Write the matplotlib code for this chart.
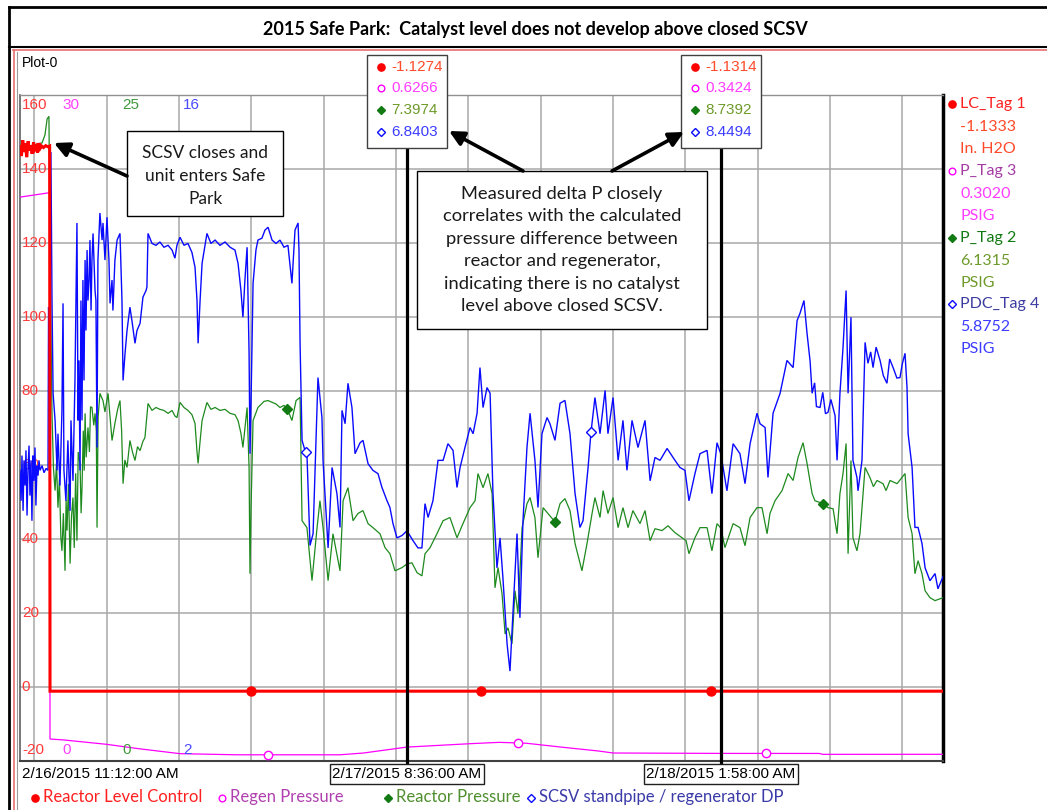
import numpy as np
import matplotlib
matplotlib.use("Agg")
import matplotlib.pyplot as plt
import matplotlib.dates as mdates
from matplotlib.lines import Line2D
from matplotlib.patches import Rectangle, FancyArrowPatch
from matplotlib.ticker import MultipleLocator
from datetime import datetime

plt.rcParams["font.family"] = ["Liberation Sans", "DejaVu Sans"]
NOTE_FONT = ["Lato", "DejaVu Sans"]

W, H = 1047, 810
START = datetime(2015, 2, 16, 11, 12)
SPAN_H = 51.05
cursor_times = [datetime(2015, 2, 17, 8, 36), datetime(2015, 2, 18, 1, 58)]

tags = ["LC_Tag 1", "P_Tag 3", "P_Tag 2", "PDC_Tag 4"]
units = ["In. H2O", "PSIG", "PSIG", "PSIG"]
descriptions = ["Reactor Level Control", "Regen Pressure", "Reactor Pressure",
                "SCSV standpipe / regenerator DP"]
scale_lo = [-20, 0, 0, 2]
scale_hi = [160, 30, 25, 16]

# values read by the two cursors
lc_cursor = [-1.1274, -1.1314]
p3_cursor = [0.6266, 0.3424]
p2_cursor = [7.3974, 8.7392]
pdc_cursor = [6.8403, 8.4494]

# (hours after start, value)
lc_pairs = [(0.00, 146.0), (0.08, 143.5), (0.15, 147.8), (0.22, 144.6), (0.30, 146.9),
            (0.37, 143.2), (0.45, 147.5), (0.52, 145.0), (0.60, 146.3), (0.67, 144.1),
            (0.75, 147.2), (0.82, 145.3), (0.90, 146.0), (0.97, 144.4), (1.05, 147.0),
            (1.12, 145.6), (1.20, 146.2), (1.30, 145.8), (1.42, 146.3), (1.55, 146.0),
            (1.64, 146.2), (1.66, -1.13), (51.05, -1.1333)]

p3_pairs = [(0.00, 25.4), (1.64, 25.6), (1.66, 0.99), (2.40, 0.95), (4.80, 0.75),
            (6.60, 0.55), (8.85, 0.33), (12.0, 0.28), (17.7, 0.28), (19.0, 0.36),
            (24.9, 0.78), (26.5, 0.84), (28.0, 0.80), (30.0, 0.62), (32.0, 0.45),
            (32.8, 0.36), (44.2, 0.34), (44.4, 0.30), (51.05, 0.3020)]

p2_pairs = [(0.00, 23.0), (0.60, 23.1), (1.22, 23.2), (1.38, 23.5), (1.50, 24.1),
            (1.60, 24.2), (1.68, 18.0), (1.77, 13.05), (1.85, 11.0), (1.94, 10.15),
            (2.02, 11.2), (2.10, 9.51), (2.18, 10.6), (2.26, 8.4), (2.32, 7.89),
            (2.40, 9.3), (2.49, 7.14), (2.55, 9.8), (2.60, 8.65), (2.68, 10.4),
            (2.77, 7.41), (2.85, 9.2), (2.93, 9.89), (3.00, 8.0), (3.08, 10.8),
            (3.15, 8.27), (3.22, 11.6), (3.32, 11.17), (3.38, 9.3), (3.43, 10.26),
            (3.50, 12.4), (3.55, 10.9), (3.60, 13.05), (3.66, 11.4), (3.76, 12.52),
            (3.84, 11.6), (3.90, 13.3), (3.98, 13.27), (4.08, 12.6), (4.15, 13.05),
            (4.22, 12.4), (4.26, 8.76), (4.32, 12.9), (4.42, 13.80), (4.59, 13.53),
            (4.70, 13.1), (4.87, 13.80), (4.98, 12.9), (5.09, 12.03), (5.25, 12.67),
            (5.40, 13.2), (5.53, 13.53), (5.62, 12.4), (5.70, 10.41), (5.80, 11.3),
            (5.92, 11.02), (6.08, 12.03), (6.22, 11.6), (6.36, 11.28), (6.50, 11.8),
            (6.64, 11.65), (6.80, 12.0), (6.91, 12.14), (7.08, 13.42), (7.30, 13.16),
            (7.52, 13.27), (7.74, 13.2), (7.96, 13.16), (8.19, 13.05), (8.41, 13.16),
            (8.57, 12.95), (8.68, 12.89), (8.85, 13.46), (9.07, 13.27), (9.29, 13.16),
            (9.51, 13.0), (9.68, 12.67), (9.79, 11.6), (9.85, 11.17), (9.96, 12.0),
            (10.07, 12.78), (10.34, 13.46), (10.56, 13.2), (10.79, 13.27), (11.06, 13.16),
            (11.34, 13.2), (11.62, 13.05), (11.89, 13.0), (12.06, 12.78), (12.22, 12.3),
            (12.33, 11.77), (12.44, 12.5), (12.56, 13.27), (12.67, 11.0), (12.72, 7.03),
            (12.78, 9.5), (12.89, 12.78), (13.16, 13.27), (13.50, 13.5), (13.72, 13.53),
            (14.16, 13.4), (14.38, 13.27), (14.60, 13.35), (14.82, 13.16), (15.04, 12.78),
            (15.27, 13.53), (15.49, 13.65), (15.60, 9.02), (15.87, 8.76), (16.15, 6.77),
            (16.43, 8.76), (16.59, 9.77), (16.76, 8.76), (17.04, 6.77), (17.31, 8.53),
            (17.70, 7.14), (17.87, 9.77), (18.14, 10.26), (18.42, 9.02), (18.69, 9.29),
            (18.97, 9.40), (19.25, 8.91), (19.52, 8.76), (19.91, 8.53), (20.19, 8.01),
            (20.46, 7.78), (20.74, 7.14), (21.13, 7.26), (21.68, 7.44), (21.96, 7.07),
            (22.23, 6.95), (22.40, 7.78), (22.68, 8.01), (23.06, 8.53), (23.40, 9.02),
            (23.78, 9.14), (24.17, 8.38), (24.50, 8.91), (24.89, 9.51), (25.17, 9.77),
            (25.33, 10.79), (25.61, 10.26), (25.88, 10.79), (26.11, 10.04), (26.27, 6.50),
            (26.44, 7.26), (26.66, 6.28), (26.83, 4.77), (26.99, 5.00), (27.21, 4.40),
            (27.38, 6.39), (27.54, 5.53), (27.77, 8.76), (28.04, 9.66), (28.21, 9.89),
            (28.48, 9.14), (28.65, 7.63), (28.93, 9.51), (29.20, 9.29), (29.59, 8.98),
            (29.87, 9.66), (30.14, 9.85), (30.42, 9.40), (30.70, 8.16), (31.08, 7.14),
            (31.36, 8.16), (31.64, 9.29), (31.80, 9.89), (32.08, 9.14), (32.25, 10.15),
            (32.52, 9.29), (32.80, 9.89), (33.08, 8.76), (33.35, 9.51), (33.63, 8.76),
            (33.90, 9.40), (34.29, 8.91), (34.57, 9.40), (34.85, 8.27), (35.12, 8.72),
            (35.51, 8.65), (35.84, 8.83), (36.23, 8.57), (36.62, 8.38), (36.84, 8.27),
            (37.00, 7.78), (37.33, 8.38), (37.61, 8.76), (38.00, 8.76), (38.27, 7.89),
            (38.55, 8.91), (38.99, 8.01), (39.44, 8.91), (39.82, 8.76), (40.10, 8.08),
            (40.38, 9.14), (40.76, 9.51), (41.04, 9.51), (41.32, 8.53), (41.48, 9.29),
            (41.76, 9.77), (42.15, 10.15), (42.48, 10.79), (42.76, 10.53), (43.03, 11.39),
            (43.31, 11.95), (43.53, 11.17), (43.81, 10.04), (43.97, 9.77), (44.41, 9.66),
            (44.69, 9.51), (44.97, 9.47), (45.19, 8.53), (45.35, 10.04), (45.52, 10.79),
            (45.69, 11.92), (45.80, 7.78), (45.96, 11.28), (46.07, 8.38), (46.29, 7.89),
            (46.46, 8.53), (46.74, 11.02), (47.01, 10.64), (47.20, 10.30), (47.40, 10.53),
            (47.73, 10.41), (47.90, 10.15), (48.12, 10.53), (48.51, 10.41), (48.78, 10.64),
            (48.95, 10.79), (49.12, 9.14), (49.34, 8.53), (49.50, 7.03), (49.67, 7.52),
            (49.89, 7.03), (50.06, 6.39), (50.33, 6.13), (50.61, 6.02), (51.05, 6.1315)]

pdc_pairs = [(0.00, 8.11), (0.06, 7.47), (0.11, 8.42), (0.17, 7.26), (0.22, 8.32),
             (0.28, 7.79), (0.33, 8.53), (0.39, 7.16), (0.44, 8.11), (0.50, 8.63),
             (0.55, 7.58), (0.61, 8.32), (0.66, 7.05), (0.72, 8.42), (0.77, 7.89),
             (0.83, 8.59), (0.88, 7.37), (0.94, 8.21), (1.00, 8.00), (1.05, 8.32),
             (1.11, 8.11), (1.22, 8.21), (1.33, 8.06), (1.44, 8.15), (1.55, 8.11),
             (1.58, 11.54), (1.64, 10.90), (1.71, 14.80), (1.77, 11.68), (1.83, 9.73),
             (1.94, 9.16), (2.05, 8.11), (2.10, 8.88), (2.21, 7.79), (2.32, 9.37),
             (2.38, 11.62), (2.43, 8.11), (2.54, 7.47), (2.65, 8.74), (2.77, 7.26),
             (2.82, 9.16), (2.93, 7.89), (3.04, 10.00), (3.15, 13.31), (3.21, 9.16),
             (3.26, 10.42), (3.32, 8.11), (3.37, 11.68), (3.43, 9.16), (3.48, 12.11),
             (3.54, 10.00), (3.60, 12.53), (3.65, 11.05), (3.71, 12.74), (3.76, 11.68),
             (3.82, 12.11), (3.87, 12.95), (3.93, 11.47), (3.98, 12.53), (4.04, 13.09),
             (4.15, 11.89), (4.20, 11.68), (4.26, 8.59), (4.31, 12.53), (4.42, 13.52),
             (4.54, 12.95), (4.59, 13.31), (4.70, 12.53), (4.81, 13.43), (4.92, 12.53),
             (4.98, 11.62), (5.09, 12.11), (5.14, 11.47), (5.25, 12.53), (5.37, 12.95),
             (5.53, 13.09), (5.64, 11.68), (5.70, 10.00), (5.81, 10.57), (5.92, 11.05),
             (6.08, 11.54), (6.19, 11.26), (6.36, 10.78), (6.47, 11.05), (6.64, 11.20),
             (6.80, 11.75), (6.97, 11.89), (7.02, 11.96), (7.08, 13.09), (7.30, 12.88),
             (7.52, 12.84), (7.74, 12.91), (7.96, 12.80), (8.19, 12.84), (8.41, 12.74),
             (8.57, 12.57), (8.68, 12.84), (8.85, 13.01), (9.07, 12.84), (9.29, 12.88),
             (9.51, 12.69), (9.68, 12.38), (9.79, 11.68), (9.85, 10.78), (9.96, 11.68),
             (10.07, 12.46), (10.23, 12.84), (10.34, 13.09), (10.56, 12.88), (10.79, 12.95),
             (11.06, 12.84), (11.34, 12.91), (11.62, 12.80), (11.89, 12.74), (12.06, 12.46),
             (12.22, 11.89), (12.33, 11.33), (12.44, 12.11), (12.56, 12.80), (12.67, 10.57),
             (12.72, 8.46), (12.78, 9.58), (12.89, 12.04), (13.05, 12.74), (13.16, 12.95),
             (13.38, 12.99), (13.55, 13.16), (13.72, 13.22), (13.94, 12.95), (14.16, 12.88),
             (14.38, 12.95), (14.60, 12.80), (14.82, 12.84), (15.04, 12.04), (15.21, 13.16),
             (15.38, 13.31), (15.43, 12.74), (15.49, 10.78), (15.60, 8.74), (15.76, 8.53),
             (15.87, 8.46), (16.04, 6.53), (16.21, 6.78), (16.48, 10.06), (16.70, 9.22),
             (16.76, 8.32), (17.04, 6.48), (17.26, 8.17), (17.53, 7.62), (17.70, 6.91),
             (17.81, 9.37), (17.98, 9.09), (18.14, 9.94), (18.36, 9.43), (18.53, 8.46),
             (18.81, 8.69), (18.97, 8.74), (19.25, 8.25), (19.52, 8.11), (19.80, 8.04),
             (20.02, 7.75), (20.30, 7.47), (20.46, 7.33), (20.63, 6.99), (20.85, 6.69),
             (21.13, 6.74), (21.74, 6.63), (22.01, 6.48), (22.23, 6.48), (22.40, 7.41),
             (22.57, 7.12), (22.84, 7.47), (23.12, 8.32), (23.40, 8.32), (23.67, 8.67),
             (23.95, 8.53), (24.17, 7.75), (24.34, 8.17), (24.61, 8.59), (24.89, 9.01),
             (25.06, 8.88), (25.28, 9.31), (25.44, 10.27), (25.61, 9.43), (25.83, 9.85),
             (26.00, 9.73), (26.16, 7.62), (26.38, 6.06), (26.55, 6.69), (26.71, 5.85),
             (26.94, 4.46), (27.10, 3.89), (27.27, 5.16), (27.49, 6.78), (27.65, 5.01),
             (27.82, 7.05), (28.04, 8.59), (28.21, 9.31), (28.48, 8.32), (28.65, 7.33),
             (28.87, 8.88), (29.15, 9.22), (29.31, 9.09), (29.59, 8.74), (29.87, 9.52),
             (30.14, 9.58), (30.42, 8.88), (30.70, 7.62), (30.97, 6.91), (31.14, 7.05),
             (31.42, 8.17), (31.58, 8.91), (31.80, 9.64), (32.08, 8.88), (32.36, 9.79),
             (32.52, 8.88), (32.80, 9.64), (33.08, 8.32), (33.35, 9.16), (33.57, 8.11),
             (33.85, 9.16), (34.18, 8.59), (34.57, 9.16), (34.85, 7.89), (35.12, 8.38),
             (35.40, 8.32), (35.79, 8.57), (36.12, 8.38), (36.50, 8.17), (36.78, 8.11),
             (37.00, 7.47), (37.33, 8.04), (37.61, 8.46), (38.00, 8.53), (38.27, 7.62),
             (38.55, 8.69), (39.10, 7.68), (39.44, 8.67), (39.82, 8.46), (40.10, 7.83),
             (40.38, 8.67), (40.76, 9.31), (40.93, 9.09), (41.21, 9.01), (41.37, 7.96),
             (41.65, 9.31), (42.04, 9.73), (42.42, 10.42), (42.76, 10.27), (42.98, 11.26),
             (43.14, 11.41), (43.36, 11.68), (43.53, 10.99), (43.70, 10.40), (43.81, 9.73),
             (43.95, 9.95), (44.05, 9.45), (44.25, 9.43), (44.40, 9.75), (44.55, 9.30),
             (44.69, 9.33), (44.85, 9.60), (45.08, 9.26), (45.19, 8.32), (45.35, 9.73),
             (45.52, 10.69), (45.69, 11.89), (45.80, 9.73), (45.96, 11.33), (46.07, 8.32),
             (46.29, 7.96), (46.35, 7.68), (46.57, 8.32), (46.74, 10.80), (46.90, 10.36),
             (47.05, 10.60), (47.18, 10.27), (47.35, 10.70), (47.57, 10.42), (47.75, 10.10),
             (47.95, 9.94), (48.10, 10.45), (48.29, 10.27), (48.50, 10.05), (48.67, 10.06),
             (48.80, 10.35), (48.95, 10.57), (49.06, 9.85), (49.12, 8.88), (49.34, 8.17),
             (49.50, 6.91), (49.67, 6.91), (49.89, 6.57), (50.06, 6.06), (50.33, 5.79),
             (50.61, 5.94), (50.77, 5.62), (51.05, 5.8752)]

# hours at which the trend draws its series markers
lc_marks = [12.78, 25.50, 38.22]
p3_marks = [13.72, 27.54, 41.26]
p2_marks = [14.77, 29.59, 44.41]
pdc_marks = [15.82, 31.58]

line_colors = ["#ff0000", "#ff00ff", "#1e8a1e", "#0a0aff"]
name_colors = ["#ff2020", "#a43ca4", "#127a12", "#3c3ca0"]
value_colors = ["#ff4a2a", "#ff3cff", "#6e9a2a", "#3c3cff"]
legend_colors = ["#ff2020", "#b040b0", "#4f8f2f", "#3a3aa8"]
mark_styles = [dict(marker="o", ms=6.5, mfc="#ff0000", mec="#ff0000"),
               dict(marker="o", ms=6.0, mfc="white", mec="#ff00ff", mew=1.0),
               dict(marker="D", ms=5.0, mfc="#127a12", mec="#127a12"),
               dict(marker="D", ms=5.0, mfc="white", mec="#0a0aff", mew=1.0)]

cursor_h = [(ct - START).total_seconds() / 3600 for ct in cursor_times]
t0 = mdates.date2num(START)


def with_cursors(pairs, cur_vals):
    h, v = map(list, zip(*pairs))
    for ch, cv in zip(cursor_h, cur_vals):
        i = int(np.searchsorted(h, ch))
        h.insert(i, ch)
        v.insert(i, cv)
    return np.array(h), np.array(v)


def stamp(t):
    return f"{t.month}/{t.day}/{t.year} {t.hour % 12 or 12}:{t:%M:%S} {t:%p}"


series = [with_cursors(lc_pairs, lc_cursor), with_cursors(p3_pairs, p3_cursor),
          with_cursors(p2_pairs, p2_cursor), with_cursors(pdc_pairs, pdc_cursor)]
marks = [lc_marks, p3_marks, p2_marks, pdc_marks]
cursor_vals = [lc_cursor, p3_cursor, p2_cursor, pdc_cursor]

fig = plt.figure(figsize=(W / 100, H / 100), dpi=100)


def fx(x):
    return x / W


def fy(y):
    return 1 - y / H


def hline(y, x0, x1, **kw):
    fig.add_artist(Line2D([fx(x0), fx(x1)], [fy(y), fy(y)], transform=fig.transFigure, **kw))


def vline(x, y0, y1, **kw):
    fig.add_artist(Line2D([fx(x), fx(x)], [fy(y0), fy(y1)], transform=fig.transFigure, **kw))


def mark(x, y, style):
    fig.add_artist(Line2D([fx(x)], [fy(y)], transform=fig.transFigure, ls="none",
                          zorder=8, **style))


def ftext(x, y, s, **kw):
    kw.setdefault("va", "center")
    return fig.text(fx(x), fy(y), s, **kw)


# frame around the whole trend window
vline(9, 7, 810, color="black", lw=2.0)
hline(7, 9, 1047, color="black", lw=2.0)
hline(47, 9, 1047, color="black", lw=1.5)
hline(50, 13, 1047, color="#e87070", lw=1.2)
vline(14, 50, 810, color="#e87070", lw=1.2)
vline(16.5, 52, 810, color="#9a9a9a", lw=0.8)
ftext(535, 29, "2015 Safe Park:  Catalyst level does not develop above closed SCSV",
      ha="center", family=NOTE_FONT, weight="bold", size=13)
ftext(22, 63, "Plot-0", ha="left", size=10)

# plot area and the shared grid (grid follows the LC scale)
ax = fig.add_axes([fx(20), fy(761), fx(943) - fx(20), fy(95) - fy(761)])
ax.set_xlim(t0, t0 + SPAN_H / 24)
ax.set_ylim(scale_lo[0], scale_hi[0])
ax.xaxis.set_major_locator(mdates.HourLocator(byhour=range(0, 24, 4)))
ax.yaxis.set_major_locator(MultipleLocator(20))
ax.grid(True, color="#a8a8a8", lw=1.1)
ax.tick_params(length=0, labelbottom=False, labelleft=False)
for side, c, w in [("left", "#606060", 1.2), ("bottom", "#404040", 1.5),
                   ("top", "#909090", 1.0), ("right", "black", 2.5)]:
    ax.spines[side].set_color(c)
    ax.spines[side].set_linewidth(w)

# one overlaid scale per tag; LC drawn last so it sits on top
order = [1, 2, 3, 0]
for i in order:
    tw = ax.twinx()
    tw.set_ylim(scale_lo[i], scale_hi[i])
    tw.set_axis_off()
    h, v = series[i]
    lw = 2.2 if i == 0 else (1.0 if i == 3 else 0.9)
    tw.plot(t0 + h / 24, v, color=line_colors[i], lw=lw, solid_joinstyle="miter")
    mh = np.array(marks[i])
    tw.plot(t0 + mh / 24, np.interp(mh, h, v), ls="none", **mark_styles[i])

# LC scale labels along the left edge
for val in range(-20, 161, 20):
    if val in (scale_lo[0], scale_hi[0]):
        continue
    ax.text(0.002, val, f"{val}", transform=ax.get_yaxis_transform(), ha="left",
            va="center", color="#ff3a3a", size=11)
scale_x = [22, 62, 122, 183]
scale_colors = ["#ff3a3a", "#ff40ff", "#3f9a3f", "#4a4aff"]
for x, lo, hi, c in zip(scale_x, scale_lo, scale_hi, scale_colors):
    ftext(x, 105, f"{hi}", ha="left", color=c, size=11)
    ftext(x, 750, f"{lo}", ha="left", color=c, size=11)

ftext(22, 774, stamp(START), ha="left", size=11)

# cursors with their read-out boxes and time stamps
for k, (ct, ch) in enumerate(zip(cursor_times, cursor_h)):
    cx = ax.transData.transform((t0 + ch / 24, 0))[0]
    vline(cx, 148, 763, color="black", lw=2.3, zorder=5)
    fig.add_artist(Rectangle((fx(cx - 40), fy(148)), 80 / W, 93 / H, transform=fig.transFigure,
                             fc="white", ec="#404040", lw=1.0, zorder=6))
    for r, y in enumerate([67, 88, 110, 132]):
        mark(cx - 26, y, {**mark_styles[r], "ms": mark_styles[r]["ms"] * 0.8})
        ftext(cx - 16, y, f"{cursor_vals[r][k]:.4f}", ha="left", color=value_colors[r],
              size=11, zorder=8)
    ftext(cx, 774, stamp(ct), ha="center", size=11, zorder=8,
          bbox=dict(boxstyle="square,pad=0.18", fc="white", ec="#202020", lw=1.0))

# tag panel at the right
for r, y in enumerate([104, 171, 238, 304]):
    mark(952, y, {**mark_styles[r], "ms": mark_styles[r]["ms"] * 0.8})
    ftext(960, y, tags[r], ha="left", color=name_colors[r], family=NOTE_FONT, size=11.5)
    ftext(960, y + 23, f"{series[r][1][-1]:.4f}", ha="left", color=value_colors[r],
          family=NOTE_FONT, size=11.5)
    ftext(960, y + 45, units[r], ha="left", color=value_colors[r], family=NOTE_FONT,
          size=11.5)

# series legend along the bottom
for r, x in enumerate([35, 222, 388, 531]):
    mark(x, 798, {**mark_styles[r], "ms": mark_styles[r]["ms"] * 0.8})
    ftext(x + 8, 797, descriptions[r], ha="left", color=legend_colors[r],
          family=NOTE_FONT, size=12)

# call-outs
fig.add_artist(Rectangle((fx(127), fy(216)), 156 / W, 85 / H, transform=fig.transFigure,
                         fc="white", ec="black", lw=1.0, zorder=6))
ftext(205, 176, "SCSV closes and\nunit enters Safe\nPark", ha="center", family=NOTE_FONT,
      size=12.5, linespacing=1.52, color="#1a1a1a", zorder=7)
fig.add_artist(Rectangle((fx(417), fy(329)), 290 / W, 158 / H, transform=fig.transFigure,
                         fc="white", ec="black", lw=1.0, zorder=6))
ftext(562, 250, "Measured delta P closely\ncorrelates with the calculated\n"
      "pressure difference between\nreactor and regenerator,\n"
      "indicating there is no catalyst\nlevel above closed SCSV.",
      ha="center", family=NOTE_FONT, size=13.2, linespacing=1.5, color="#1a1a1a", zorder=7)

for (xa, ya), (xb, yb) in [((127, 176), (54, 143)), ((523, 171), (449, 131)),
                           ((612, 171), (684, 132))]:
    fig.add_artist(FancyArrowPatch((fx(xa), fy(ya)), (fx(xb), fy(yb)),
                                   transform=fig.transFigure, arrowstyle="-|>",
                                   mutation_scale=22, lw=2.6, color="black", zorder=9,
                                   shrinkA=0, shrinkB=0))

fig.savefig("out.png", dpi=100, facecolor="white")
